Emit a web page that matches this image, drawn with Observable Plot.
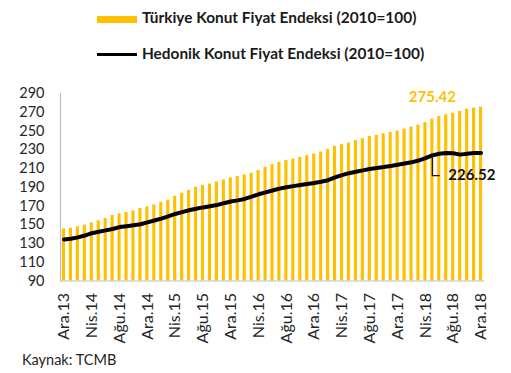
<!DOCTYPE html>
<html>
<head>
<meta charset="utf-8">
<script src="https://cdn.jsdelivr.net/npm/d3@7"></script>
<script src="https://cdn.jsdelivr.net/npm/@observablehq/plot@0.6"></script>
<style>
  html, body { margin: 0; padding: 0; background: #fff; }
  #wrap { position: relative; width: 511px; height: 373px; overflow: hidden; font-family: Lato, "Liberation Sans", sans-serif; }
  #chart { position: absolute; left: 0; top: 0; }
  .leg { position: absolute; font-weight: bold; font-size: 15.4px; line-height: 16px; color: #1a1a1a; white-space: nowrap; }
  .sw { position: absolute; }
  #cap { position: absolute; left: 22px; top: 352px; font-size: 14.5px; line-height: 16px; color: #262626; }
</style>
</head>
<body>
<div id="wrap">
  <div id="chart"></div>
  <div class="sw" style="left:97px;top:16px;width:40px;height:7px;background:#FFC000"></div>
  <div class="leg" style="left:142px;top:9px">Türkiye Konut Fiyat Endeksi (2010=100)</div>
  <div class="sw" style="left:97px;top:53px;width:40px;height:3px;background:#000"></div>
  <div class="leg" style="left:142px;top:45px">Hedonik Konut Fiyat Endeksi (2010=100)</div>
  <div id="cap">Kaynak: TCMB</div>
</div>
<script>
// Month names (Turkish) and years
const monthNames = ["Oca","Şub","Mar","Nis","May","Haz","Tem","Ağu","Eyl","Eki","Kas","Ara"];
const years = ["13","14","15","16","17","18"];
// Categories: Ara.13 ... Ara.18 (61 months)
const categories = ["Ara.13"].concat(years.slice(1).flatMap(y => monthNames.map(m => m + "." + y)));

// Türkiye Konut Fiyat Endeksi (bars)
const tkfe = [
  145.6,146.3,147.8,149.6,152.0,154.2,156.7,159.9,161.6,163.1,164.8,167.3,
  169.1,171.2,174.0,176.2,180.4,183.6,186.5,190.0,192.1,193.5,195.6,197.8,
  199.9,201.4,203.1,204.9,207.8,211.3,214.1,216.6,218.7,220.1,221.9,223.7,
  225.4,227.6,230.4,233.6,235.4,237.1,239.7,241.8,244.0,245.3,247.1,248.5,
  249.9,252.0,254.2,256.3,259.1,262.7,265.5,267.3,269.0,270.9,273.3,274.4,
  275.42
];
// Hedonik Konut Fiyat Endeksi (line)
const hkfe = [
  134.3,135.0,136.5,138.5,141.0,142.5,144.0,145.5,147.5,148.5,149.5,150.5,
  152.5,154.5,156.5,159.0,161.5,163.5,165.5,167.0,168.5,169.8,171.0,173.0,
  174.8,176.0,177.5,180.0,182.5,184.5,186.5,188.5,190.0,191.2,192.3,193.5,
  194.6,195.8,197.5,200.5,203.0,205.0,206.5,208.0,209.5,210.5,211.5,212.7,
  214.0,215.3,216.6,218.5,221.0,224.0,225.8,226.5,226.2,224.8,225.8,226.6,
  226.52
];
// Axis ticks
const yTicks = [90,110,130,150,170,190,210,230,250,270,290];
const xTicks = categories.filter((d, i) => i % 4 === 0);

// Annotations (data space)
const tkfeLabel = {text: "275.42", x: "May.18", y: 285.7};
const hkfeLabel = {text: "226.52", x: "Haz.18", y: 202.5, from: "May.18"};

const data = categories.map((c, i) => ({c, t: tkfe[i], h: hkfe[i]}));
const yMin = yTicks[0], yMax = yTicks[yTicks.length - 1];
const fromIdx = categories.indexOf(hkfeLabel.from);
const leader = [
  {c: hkfeLabel.from, v: hkfe[fromIdx]},
  {c: hkfeLabel.from, v: hkfeLabel.y},
  {c: hkfeLabel.x, v: hkfeLabel.y}
];

const plot = Plot.plot({
  width: 511,
  height: 373,
  marginLeft: 60,
  marginRight: 27,
  marginTop: 93,
  marginBottom: 92.5,
  style: {fontFamily: "Lato, 'Liberation Sans', sans-serif", background: "transparent"},
  x: {type: "band", domain: categories, paddingInner: 0.55, paddingOuter: 0.275, label: null},
  y: {domain: [yMin, yMax], label: null},
  marks: [
    Plot.barY(data, {x: "c", y1: yMin, y2: "t", fill: "#FFC000"}),
    Plot.ruleY([yMin], {stroke: "#bfbfbf", strokeWidth: 1.2}),
    Plot.frame({anchor: "left", stroke: "#bfbfbf", strokeWidth: 1.2}),
    Plot.line(data, {x: "c", y: "h", stroke: "#000", strokeWidth: 4, curve: "linear", strokeLinejoin: "round"}),
    Plot.line(leader, {x: "c", y: "v", stroke: "#1a1a1a", strokeWidth: 1.3}),
    Plot.text([tkfeLabel], {x: "x", y: "y", text: "text", fill: "#FFC000", fontWeight: "bold", fontSize: 15}),
    Plot.text([hkfeLabel], {x: "x", y: "y", text: "text", fill: "#111", fontWeight: "bold", fontSize: 15, textAnchor: "start", dx: 9}),
    Plot.axisY({ticks: yTicks, tickSize: 0, tickPadding: 16, fontSize: 14.5, fill: "#262626", label: null}),
    Plot.axisX({ticks: xTicks, tickSize: 0, tickPadding: 12, tickRotate: -90, fontSize: 16, fill: "#262626", label: null})
  ]
});
document.getElementById("chart").appendChild(plot);
</script>
</body>
</html>
